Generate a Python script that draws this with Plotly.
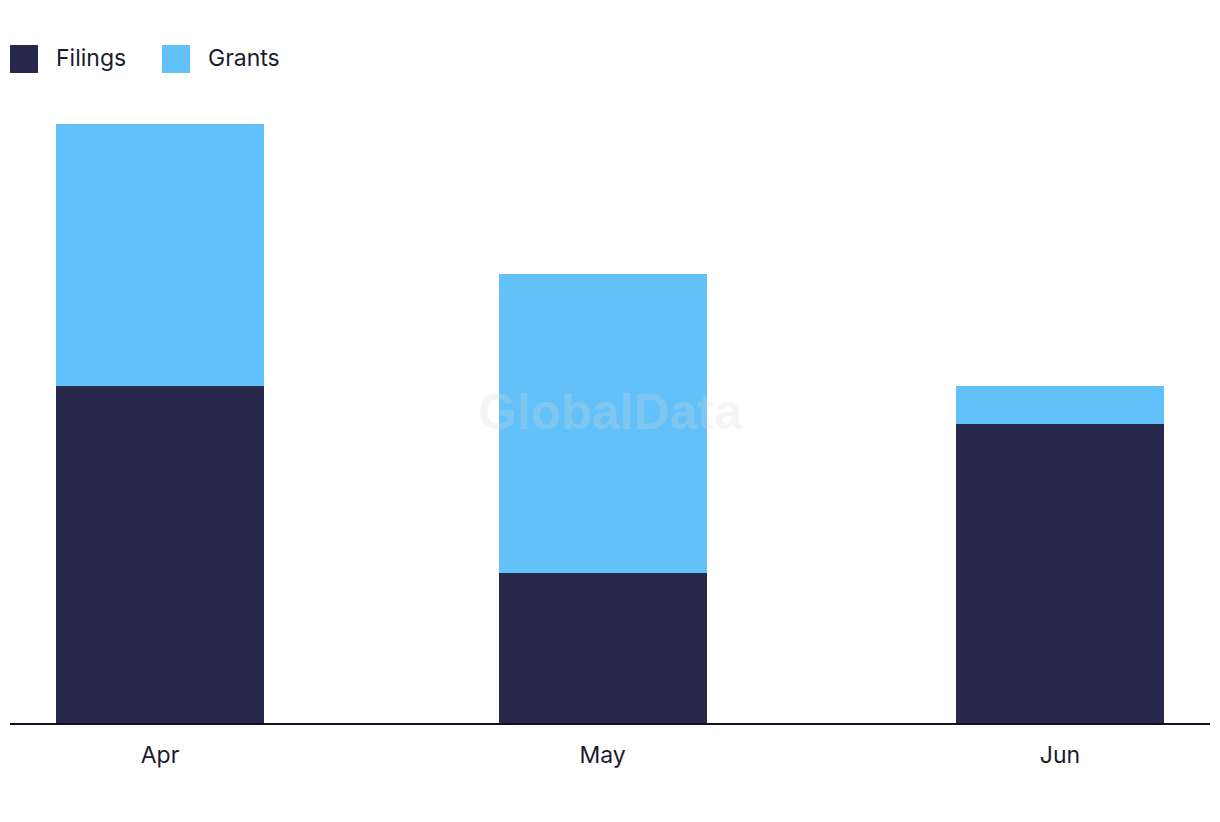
import plotly.graph_objects as go

months = ["2024-04-01", "2024-05-01", "2024-06-01"]
month_labels = ["Apr", "May", "Jun"]
series_names = ["Filings", "Grants"]
filings = [9, 4, 8]
grants = [7, 8, 1]
colors = ["#27284C", "#62C1F9"]

DAY = 86400000
bar_width = 14.1 * DAY

fig = go.Figure()
fig.add_trace(go.Bar(x=months, y=filings, name=series_names[0], marker_color=colors[0],
                     width=[bar_width] * 3, marker_line_width=0))
fig.add_trace(go.Bar(x=months, y=grants, name=series_names[1], marker_color=colors[1],
                     width=[bar_width] * 3, marker_line_width=0))

W, H = 1220, 822
L, R, T, B = 10, 10, 124, 99
pw, ph = W - L - R, H - T - B

def px_x(x):
    return (x - L) / pw

def px_y(y):
    return (H - B - y) / ph

shapes = []
annotations = []
leg = [(10, 54), (162, 206)]
for (sx, tx), name, c in zip(leg, series_names, colors):
    shapes.append(dict(type="rect", xref="paper", yref="paper",
                       x0=px_x(sx), x1=px_x(sx + 28), y0=px_y(73), y1=px_y(45),
                       fillcolor=c, line_width=0))
    annotations.append(dict(xref="paper", yref="paper", x=px_x(tx), y=px_y(58),
                            xanchor="left", yanchor="middle", text=name, showarrow=False,
                            font=dict(family="Inter, sans-serif", size=23, color="#1B1B2F")))

annotations.append(dict(xref="paper", yref="paper", x=px_x(610), y=px_y(412),
                        xanchor="center", yanchor="middle", text="<b>GlobalData</b>",
                        showarrow=False,
                        font=dict(family="Liberation Sans, Arial, sans-serif", size=50,
                                  color="rgba(215,215,215,0.25)")))

fig.update_layout(
    barmode="stack",
    width=W, height=H,
    margin=dict(l=L, r=R, t=T, b=B, pad=0),
    paper_bgcolor="white", plot_bgcolor="white",
    showlegend=False,
    shapes=shapes,
    annotations=annotations,
    bargap=0,
    xaxis=dict(type="date",
               range=["2024-03-21 20:00", "2024-06-11 04:00"],
               tickvals=months, ticktext=month_labels,
               showgrid=False, zeroline=False, showline=True, linecolor="#111122", linewidth=2,
               ticks="", ticklabelstandoff=10,
               tickfont=dict(family="Inter, sans-serif", size=23, color="#1B1B2F")),
    yaxis=dict(range=[0, 16], showgrid=False, zeroline=False, showticklabels=False,
               showline=False, ticks=""),
)

fig.write_html("out.html")
